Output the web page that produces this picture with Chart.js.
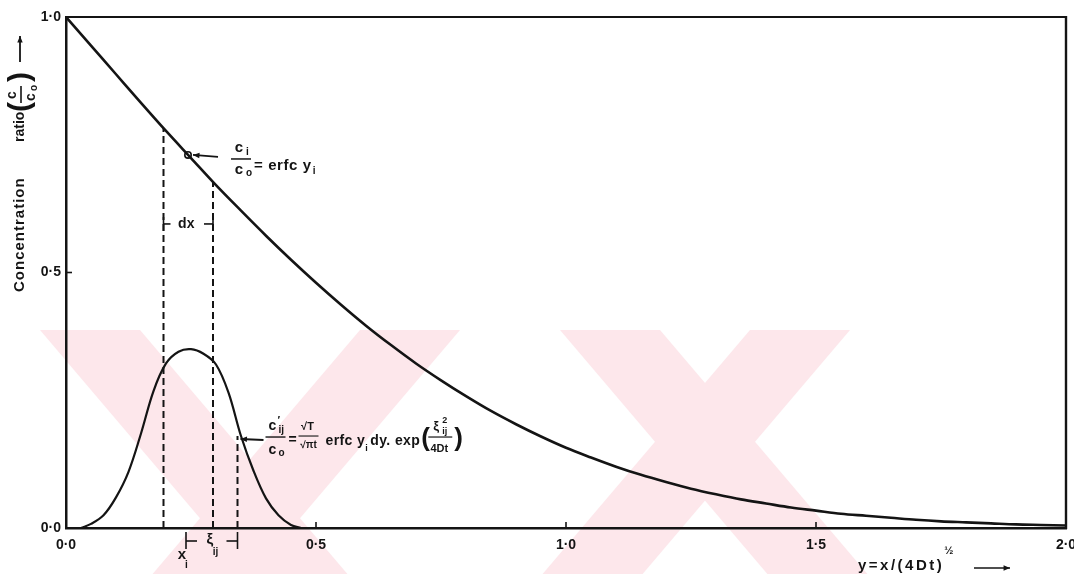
<!DOCTYPE html>
<html><head><meta charset="utf-8">
<script src="https://cdn.jsdelivr.net/npm/chart.js@4.4.1/dist/chart.umd.min.js"></script>
<style>html,body{margin:0;padding:0;background:#fff;overflow:hidden}</style>
</head><body>
<canvas id="c" width="1074" height="574"></canvas>
<script>
// ---- data ----
const erfcX = [0,0.05,0.1,0.15,0.2,0.25,0.3,0.35,0.4,0.45,0.5,0.55,0.6,0.65,0.7,0.75,0.8,0.85,0.9,0.95,1.0,1.05,1.1,1.15,1.2,1.25,1.3,1.35,1.4,1.45,1.5,1.55,1.6,1.65,1.7,1.75,1.8,1.85,1.9,1.95,2.0];
const erfcY = [1.0,0.944,0.888,0.832,0.777,0.724,0.671,0.621,0.572,0.525,0.480,0.437,0.396,0.358,0.322,0.289,0.258,0.229,0.203,0.179,0.157,0.138,0.120,0.104,0.090,0.077,0.066,0.056,0.048,0.040,0.034,0.028,0.024,0.020,0.016,0.013,0.011,0.009,0.007,0.006,0.005];
const bumpX = [0.03,0.05,0.075,0.1,0.125,0.15,0.175,0.2,0.225,0.25,0.275,0.3,0.325,0.35,0.375,0.4,0.425,0.45,0.47];
const bumpY = [0,0.008,0.025,0.06,0.11,0.185,0.268,0.322,0.345,0.35,0.341,0.32,0.265,0.18,0.112,0.058,0.025,0.006,0];
const dashX = [0.195, 0.294, 0.343];
const dashTop = [0.783, 0.678, 0.18];
const markX = [0.244];
const markY = [0.73];
const xiValue = [0.24];
const xTickValues = [0, 0.5, 1, 1.5, 2];
const xTickLabels = ['0·0', '0·5', '1·0', '1·5', '2·0'];
const yTickValues = [0, 0.5, 1];
const yTickLabels = ['0·0', '0·5', '1·0'];

const F = '"Liberation Sans", Arial, sans-serif';
const INK = '#141414';

function txt(ctx, s, x, y, size, align, italic) {
  ctx.font = (italic ? 'italic ' : '') + 'bold ' + size + 'px ' + F;
  ctx.textAlign = align || 'left';
  ctx.textBaseline = 'middle';
  ctx.fillText(s, x, y);
  return ctx.measureText(s).width;
}
function seg(ctx, x1, y1, x2, y2, w) {
  ctx.lineWidth = w || 1.6;
  ctx.beginPath(); ctx.moveTo(x1, y1); ctx.lineTo(x2, y2); ctx.stroke();
}
function arrow(ctx, x1, y1, x2, y2, w) {
  seg(ctx, x1, y1, x2, y2, w);
  const a = Math.atan2(y2 - y1, x2 - x1), h = 7;
  ctx.beginPath();
  ctx.moveTo(x2, y2);
  ctx.lineTo(x2 - h * Math.cos(a - 0.4), y2 - h * Math.sin(a - 0.4));
  ctx.lineTo(x2 - h * Math.cos(a + 0.4), y2 - h * Math.sin(a + 0.4));
  ctx.closePath(); ctx.fill();
}

const deco = {
  id: 'deco',
  beforeDraw(chart) {
    const ctx = chart.ctx;
    ctx.save();
    ctx.fillStyle = '#fff';
    ctx.fillRect(0, 0, chart.width, chart.height);
    // faint pink watermark bands
    ctx.fillStyle = '#fde7eb';
    const t = 330, b = chart.height, h = (b - t) * 0.85, w = 100;
    [40, 560].forEach(a => {
      ctx.beginPath(); ctx.moveTo(a, t); ctx.lineTo(a + w, t); ctx.lineTo(a + w + h, b); ctx.lineTo(a + h, b); ctx.closePath(); ctx.fill();
    });
    [360, 750].forEach(a => {
      ctx.beginPath(); ctx.moveTo(a, t); ctx.lineTo(a + w, t); ctx.lineTo(a + w - h, b); ctx.lineTo(a - h, b); ctx.closePath(); ctx.fill();
    });
    ctx.restore();
  },
  afterDraw(chart) {
    const ctx = chart.ctx, xs = chart.scales.x, ys = chart.scales.y, A = chart.chartArea;
    const X = v => xs.getPixelForValue(v), Y = v => ys.getPixelForValue(v);
    ctx.save();
    ctx.strokeStyle = INK; ctx.fillStyle = INK; ctx.lineCap = 'butt';
    // frame top and right
    seg(ctx, A.left, A.top, A.right, A.top, 2.2);
    seg(ctx, A.right, A.top - 1, A.right, A.bottom + 1, 2.4);
    // small tick marks
    [0.5, 1, 1.5].forEach(v => seg(ctx, X(v), A.bottom, X(v), A.bottom - 6, 1.6));
    seg(ctx, A.left, Y(0.5), A.left + 6, Y(0.5), 1.6);

    // annotation 1: c_i/c_0 = erfc y_i
    const cx = X(markX[0]), cy = Y(markY[0]);
    arrow(ctx, cx + 30, cy + 2, cx + 5, cy, 1.8);
    const fx = cx + 53;
    txt(ctx, 'c', fx - 2, cy - 7, 15, 'center');
    txt(ctx, 'i', fx + 5, cy - 3, 10, 'left');
    seg(ctx, fx - 10, cy + 4, fx + 10, cy + 4, 1.5);
    txt(ctx, 'c', fx - 2, cy + 15, 15, 'center');
    txt(ctx, 'o', fx + 5, cy + 18, 10, 'left');
    ctx.letterSpacing = '0.6px';
    const wq = txt(ctx, '= erfc y', fx + 13, cy + 11, 15, 'left');
    ctx.letterSpacing = '0px';
    txt(ctx, 'i', fx + 14 + wq, cy + 16, 10, 'left');

    // dx bracket between first two dashed lines
    const dl = X(dashX[0]), dr = X(dashX[1]), dy = Y(0.595);
    seg(ctx, dl, dy - 7, dl, dy + 7, 1.6);
    seg(ctx, dr, dy - 7, dr, dy + 7, 1.6);
    seg(ctx, dl, dy, dl + 7, dy, 1.6);
    seg(ctx, dr - 9, dy, dr, dy, 1.6);
    txt(ctx, 'dx', (dl + dr) / 2 - 2, dy, 14, 'center');

    // annotation 2 on the bump
    const ax = X(dashX[2]), ay = Y(dashTop[2]) + 3;
    arrow(ctx, ax + 26, ay + 1, ax + 3, ay, 1.8);
    txt(ctx, 'c', ax + 35, ay - 13, 14, 'center');
    txt(ctx, '′', ax + 40, ay - 18, 11, 'left');
    txt(ctx, 'ij', ax + 41, ay - 9, 10, 'left');
    seg(ctx, ax + 28, ay - 2, ax + 48, ay - 2, 1.4);
    txt(ctx, 'c', ax + 35, ay + 11, 14, 'center');
    txt(ctx, 'o', ax + 41, ay + 14, 10, 'left');
    txt(ctx, '=', ax + 55, ay + 1, 14, 'center');
    txt(ctx, '√T', ax + 70, ay - 12, 11, 'center');
    seg(ctx, ax + 61, ay - 3, ax + 81, ay - 3, 1.1);
    txt(ctx, '√πt', ax + 71, ay + 6, 10, 'center');
    ctx.letterSpacing = '0.4px';
    let px = ax + 88;
    px += txt(ctx, 'erfc y', px, ay + 2, 14, 'left');
    txt(ctx, 'i', px, ay + 9, 9, 'left'); px += 5;
    px += txt(ctx, 'dy. exp', px, ay + 2, 14, 'left');
    ctx.letterSpacing = '0px';
    txt(ctx, '(', px + 1, ay, 26, 'left');
    const ex = px + 19;
    txt(ctx, 'ξ', ex - 3, ay - 13, 13, 'center');
    txt(ctx, '2', ex + 3, ay - 19, 9, 'left');
    txt(ctx, 'ij', ex + 3, ay - 8, 9, 'left');
    seg(ctx, ex - 11, ay - 2, ex + 13, ay - 2, 1.2);
    txt(ctx, '4Dt', ex, ay + 10, 11, 'center');
    txt(ctx, ')', ex + 15, ay, 26, 'left');

    // xi bracket below the axis
    const xl = X(xiValue[0]), xr = X(dashX[2]), by = A.bottom + 13;
    seg(ctx, xl, A.bottom + 4, xl, A.bottom + 21, 1.6);
    seg(ctx, xr, A.bottom + 4, xr, A.bottom + 21, 1.6);
    seg(ctx, xl, by, xl + 11, by, 1.6);
    seg(ctx, xr - 11, by, xr, by, 1.6);
    txt(ctx, 'ξ', (xl + xr) / 2 - 2, by - 1, 15, 'center');
    txt(ctx, 'ij', (xl + xr) / 2 + 1, by + 11, 10, 'left');
    txt(ctx, 'x', xl - 4, by + 14, 15, 'center');
    txt(ctx, 'i', xl - 1, by + 24, 10, 'left');

    // x-axis title
    ctx.letterSpacing = '2.5px';
    const tw = txt(ctx, 'y=x/(4Dt)', 858, 566, 15, 'left');
    ctx.letterSpacing = '0px';
    txt(ctx, '½', 858 + tw, 551, 11, 'left');
    arrow(ctx, 974, 568, 1010, 568, 1.5);

    // y-axis title (rotated)
    ctx.save();
    ctx.translate(20, 292);
    ctx.rotate(-Math.PI / 2);
    ctx.letterSpacing = '1px';
    txt(ctx, 'Concentration', 0, 0, 15, 'left');
    ctx.letterSpacing = '0px';
    txt(ctx, 'ratio', 150, 0, 14, 'left');
    txt(ctx, '(', 180, 1, 30, 'left');
    txt(ctx, 'c', 197, -8, 14, 'center');
    seg(ctx, 189, 1, 206, 1, 1.6);
    txt(ctx, 'c', 195, 11, 14, 'center');
    txt(ctx, 'o', 201, 14, 10, 'left');
    txt(ctx, ')', 210, 1, 30, 'left');
    arrow(ctx, 230, 0, 256, 0, 1.8);
    ctx.restore();

    ctx.restore();
  }
};

const line = (xsArr, ysArr) => xsArr.map((x, i) => ({ x: x, y: ysArr[i] }));
const datasets = [
  { data: line(erfcX, erfcY), borderColor: INK, borderWidth: 2.6, pointRadius: 0, cubicInterpolationMode: 'monotone', fill: false },
  { data: line(bumpX, bumpY), borderColor: INK, borderWidth: 2.2, pointRadius: 0, tension: 0.35, fill: false }
];
dashX.forEach((x, i) => {
  datasets.push({ data: [{ x: x, y: 0 }, { x: x, y: dashTop[i] }], borderColor: INK, borderWidth: 2, borderDash: [7, 4], pointRadius: 0, fill: false });
});
datasets.push({ type: 'scatter', data: line(markX, markY), showLine: false, pointRadius: 3.2, pointBorderWidth: 1.6, pointBackgroundColor: '#fff', pointBorderColor: INK });

new Chart(document.getElementById('c'), {
  type: 'line',
  data: { datasets: datasets },
  options: {
    responsive: false,
    devicePixelRatio: 1,
    animation: false,
    layout: { padding: { top: 17, right: 8, left: 0, bottom: 0 } },
    plugins: { legend: { display: false }, tooltip: { enabled: false } },
    scales: {
      x: {
        type: 'linear', min: 0, max: 2,
        grid: { display: false, drawTicks: false },
        border: { display: true, color: INK, width: 2.5 },
        ticks: {
          color: INK, padding: 9, autoSkip: false, maxRotation: 0,
          font: { family: F, weight: 'bold', size: 14 },
          callback: (v) => { const i = xTickValues.indexOf(v); return i >= 0 ? xTickLabels[i] : ''; }
        },
        afterBuildTicks: (s) => { s.ticks = xTickValues.map(v => ({ value: v })); },
        afterFit: (s) => { s.height = 46; s.paddingLeft = 0; s.paddingRight = 0; }
      },
      y: {
        type: 'linear', min: 0, max: 1,
        grid: { display: false, drawTicks: false },
        border: { display: true, color: INK, width: 2.5 },
        ticks: {
          color: INK, padding: 5,
          font: { family: F, weight: 'bold', size: 14 },
          callback: (v) => { const i = yTickValues.indexOf(v); return i >= 0 ? yTickLabels[i] : ''; }
        },
        afterBuildTicks: (s) => { s.ticks = yTickValues.map(v => ({ value: v })); },
        afterFit: (s) => { s.width = 66; s.paddingTop = 0; s.paddingBottom = 0; }
      }
    }
  },
  plugins: [deco]
});
</script>
</body></html>
